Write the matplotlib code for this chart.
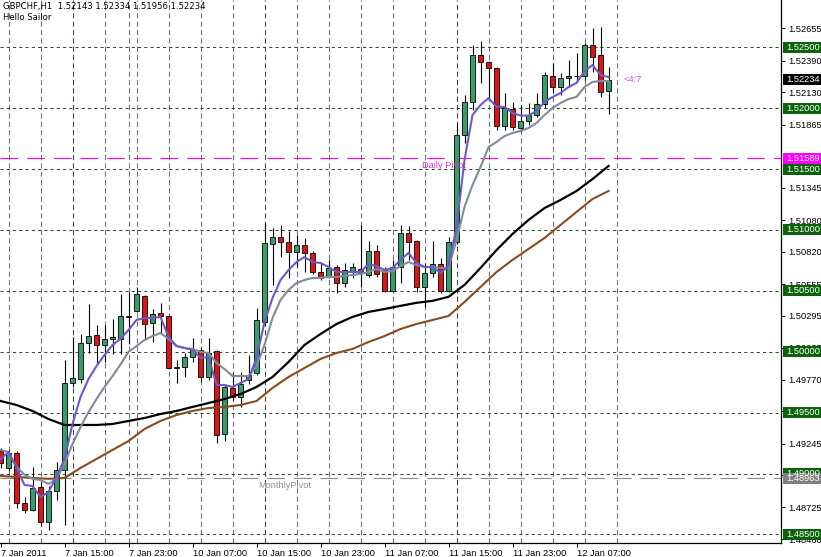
import matplotlib
matplotlib.use("Agg")
import matplotlib.pyplot as plt
from matplotlib.patches import Rectangle
import matplotlib.transforms as mtransforms

# ---------------- data (GBPCHF H1) ----------------
symbol_header = "GBPCHF,H1  1.52143 1.52334 1.51956 1.52234"
subtitle = "Hello Sailor"

opens = [1.49186, 1.49046, 1.49172, 1.48759, 1.48701, 1.48890, 1.48605, 1.48857, 1.49030, 1.49744,
         1.49779, 1.50072, 1.50138, 1.50056, 1.50105, 1.50105, 1.50294, 1.50335, 1.50458, 1.50237,
         1.50319, 1.50294, 1.49867, 1.49875, 1.49957, 1.50015, 1.49793, 1.50007, 1.49325, 1.49703,
         1.49631, 1.49769, 1.49826, 1.50245, 1.50885, 1.50943, 1.50904, 1.50822, 1.50877, 1.50814,
         1.50658, 1.50617, 1.50696, 1.50567, 1.50658, 1.50680, 1.50631, 1.50830, 1.50680, 1.50502,
         1.50699, 1.50978, 1.50912, 1.50532, 1.50649, 1.50721, 1.50502, 1.50904, 1.51780, 1.52051,
         1.52437, 1.52382, 1.52328, 1.51854, 1.51993, 1.51835, 1.51897, 1.51944, 1.52034, 1.52264,
         1.52172, 1.52245, 1.52264, 1.52264, 1.52519, 1.52437, 1.52143]
highs = [1.49210, 1.49194, 1.49186, 1.48808, 1.49054, 1.48931, 1.48898, 1.49095, 1.49933, 1.50122,
         1.50149, 1.50393, 1.50220, 1.50220, 1.50269, 1.50475, 1.50491, 1.50532, 1.50467, 1.50351,
         1.50401, 1.50302, 1.49933, 1.49990, 1.50113, 1.50039, 1.50113, 1.50015, 1.49727, 1.49826,
         1.49834, 1.49974, 1.50360, 1.51057, 1.51016, 1.51041, 1.50994, 1.50959, 1.50934, 1.50828,
         1.50740, 1.50754, 1.50713, 1.50727, 1.50729, 1.51041, 1.50912, 1.50877, 1.50699, 1.50754,
         1.51041, 1.51033, 1.50920, 1.50729, 1.50912, 1.50768, 1.50945, 1.51879, 1.52108, 1.52519,
         1.52554, 1.52390, 1.52341, 1.52125, 1.52053, 1.52026, 1.52040, 1.52125, 1.52300, 1.52371,
         1.52291, 1.52396, 1.52451, 1.52538, 1.52656, 1.52669, 1.52334]
lows = [1.49046, 1.49021, 1.48718, 1.48677, 1.48693, 1.48570, 1.48537, 1.48783, 1.48578, 1.49711,
        1.49744, 1.49990, 1.49900, 1.49916, 1.49982, 1.49982, 1.50064, 1.50327, 1.50097, 1.50080,
        1.50154, 1.49859, 1.49744, 1.49793, 1.49916, 1.49752, 1.49769, 1.49251, 1.49270, 1.49604,
        1.49549, 1.49736, 1.49810, 1.50220, 1.50548, 1.50778, 1.50606, 1.50699, 1.50658, 1.50639,
        1.50590, 1.50603, 1.50483, 1.50535, 1.50606, 1.50532, 1.50617, 1.50617, 1.50493, 1.50493,
        1.50565, 1.50754, 1.50493, 1.50370, 1.50617, 1.50483, 1.50493, 1.50885, 1.51712, 1.51985,
        1.52204, 1.52067, 1.51821, 1.51821, 1.51821, 1.51807, 1.51862, 1.51930, 1.52002, 1.52127,
        1.52108, 1.52177, 1.52218, 1.52232, 1.52300, 1.52094, 1.51956]
closes = [1.49087, 1.49170, 1.48756, 1.48701, 1.48882, 1.48605, 1.48857, 1.49030, 1.49744, 1.49785,
          1.50072, 1.50130, 1.50056, 1.50105, 1.50122, 1.50294, 1.50286, 1.50475, 1.50228, 1.50310,
          1.50294, 1.49867, 1.49875, 1.49957, 1.50015, 1.49793, 1.49990, 1.49317, 1.49713, 1.49631,
          1.49736, 1.49810, 1.50261, 1.50893, 1.50945, 1.50904, 1.50822, 1.50877, 1.50814, 1.50658,
          1.50606, 1.50688, 1.50567, 1.50672, 1.50696, 1.50649, 1.50830, 1.50639, 1.50502, 1.50699,
          1.50978, 1.50904, 1.50532, 1.50647, 1.50721, 1.50502, 1.50904, 1.51780, 1.52051, 1.52437,
          1.52377, 1.52328, 1.51854, 1.52002, 1.51843, 1.51897, 1.51944, 1.52034, 1.52273, 1.52172,
          1.52245, 1.52264, 1.52268, 1.52519, 1.52418, 1.52135, 1.52234]

ma_fast = [1.49120, 1.49177, 1.49046, 1.48906, 1.48898, 1.48808, 1.48849, 1.48972, 1.49120, 1.49407,
           1.49629, 1.49776, 1.49883, 1.49973, 1.50056, 1.50105, 1.50179, 1.50261, 1.50277, 1.50277,
           1.50286, 1.50121, 1.50047, 1.50031, 1.50015, 1.49949, 1.49957, 1.49727, 1.49727, 1.49711,
           1.49744, 1.49776, 1.49949, 1.50244, 1.50441, 1.50589, 1.50671, 1.50737, 1.50778, 1.50737,
           1.50729, 1.50696, 1.50655, 1.50655, 1.50655, 1.50655, 1.50721, 1.50704, 1.50671, 1.50688,
           1.50754, 1.50811, 1.50729, 1.50696, 1.50696, 1.50647, 1.50704, 1.51024, 1.51574, 1.51944,
           1.52026, 1.52083, 1.52010, 1.52010, 1.51960, 1.51940, 1.51938, 1.51977, 1.52051, 1.52092,
           1.52124, 1.52174, 1.52207, 1.52305, 1.52354, 1.52272, 1.52256]
ma_slow = [1.49194, 1.49177, 1.49054, 1.48990, 1.48957, 1.48947, 1.48915, 1.48957, 1.49079, 1.49243,
           1.49382, 1.49505, 1.49612, 1.49711, 1.49800, 1.49896, 1.49999, 1.50047, 1.50097, 1.50129,
           1.50154, 1.50105, 1.50047, 1.50031, 1.50023, 1.49999, 1.49990, 1.49908, 1.49858, 1.49801,
           1.49801, 1.49800, 1.49883, 1.50056, 1.50277, 1.50425, 1.50507, 1.50565, 1.50589, 1.50606,
           1.50606, 1.50614, 1.50614, 1.50622, 1.50630, 1.50639, 1.50655, 1.50680, 1.50655, 1.50663,
           1.50704, 1.50737, 1.50712, 1.50696, 1.50696, 1.50688, 1.50688, 1.50918, 1.51189, 1.51369,
           1.51517, 1.51681, 1.51722, 1.51771, 1.51796, 1.51813, 1.51837, 1.51878, 1.51944, 1.52001,
           1.52042, 1.52075, 1.52092, 1.52174, 1.52215, 1.52223, 1.52223]

ma_long_bars = list(range(0, 77, 2))
ma_black = [1.49596, 1.49563, 1.49514, 1.49448, 1.49399, 1.49399, 1.49399, 1.49407, 1.49432, 1.49456,
            1.49489, 1.49514, 1.49547, 1.49579, 1.49612, 1.49653, 1.49711, 1.49793, 1.49916, 1.50056,
            1.50146, 1.50228, 1.50286, 1.50327, 1.50351, 1.50377, 1.50402, 1.50418, 1.50451, 1.50549,
            1.50688, 1.50835, 1.50967, 1.51082, 1.51180, 1.51246, 1.51320, 1.51418, 1.51525]
ma_brown = [1.48980, 1.48972, 1.48964, 1.48957, 1.48964, 1.49046, 1.49120, 1.49194, 1.49267, 1.49366,
            1.49432, 1.49481, 1.49514, 1.49538, 1.49547, 1.49563, 1.49596, 1.49703, 1.49793, 1.49867,
            1.49941, 1.49990, 1.50023, 1.50080, 1.50129, 1.50187, 1.50228, 1.50261, 1.50294, 1.50409,
            1.50532, 1.50655, 1.50754, 1.50844, 1.50934, 1.51041, 1.51148, 1.51254, 1.51320]

round_levels = [1.48500, 1.49000, 1.49500, 1.50000, 1.50500, 1.51000, 1.51500, 1.52000, 1.52500]
daily_pivot = 1.51589
monthly_pivot = 1.48963
current_price = 1.52234
countdown = "<4:7"

price_ticks = [1.52655, 1.52390, 1.52130, 1.51865, 1.51345, 1.51080, 1.50820, 1.50555,
               1.50295, 1.50035, 1.49770, 1.49510, 1.49245, 1.48985, 1.48725, 1.48460]
time_tick_bars = [0, 8, 16, 24, 32, 40, 48, 56, 64, 72]
time_tick_labels = ["7 Jan 2011", "7 Jan 15:00", "7 Jan 23:00", "10 Jan 07:00", "10 Jan 15:00",
                    "10 Jan 23:00", "11 Jan 07:00", "11 Jan 15:00", "11 Jan 23:00", "12 Jan 07:00"]
grid_bars = list(range(1, 78, 4))
session_bars = [9, 33, 57]
separator_bar = 16

# ---------------- styling ----------------
FONT = "Liberation Sans"
FS = 6.7
BULL = "#3b9b6b"
BEAR = "#dc1414"
GRID_GREEN = "#275227"

W, H = 821, 557
fig = plt.figure(figsize=(W / 100, H / 100), dpi=100)
fig.patch.set_facecolor("white")
ax_left, ax_right, ax_bottom = 0, 781, 543
ax = fig.add_axes([ax_left / W, (H - ax_bottom) / H, (ax_right - ax_left) / W, ax_bottom / H])
ax.set_facecolor("white")

ax.set_xlim(-0.0625, 97.56)
ax.set_ylim(1.48430, 1.52888)

# grid verticals
for b in grid_bars:
    col = GRID_GREEN if b in session_bars else "#6e6e6e"
    ax.axvline(b, color=col, lw=0.75, ls=(0, (5, 3)), zorder=1)
ax.axvline(separator_bar, color="#6e6e6e", lw=0.75, ls=(0, (5, 3)), zorder=1)

# round number levels
for lv in round_levels:
    ax.axhline(lv, color=GRID_GREEN, lw=0.75, ls=(0, (3, 3)), zorder=1)

# pivots
ax.axhline(daily_pivot, color="#ff00ff", lw=0.8, ls=(0, (16, 8)), zorder=1.2)
ax.axhline(monthly_pivot, color="#8a8a8a", lw=0.8, ls=(0, (16, 8)), zorder=1.2)
ax.text(52.7, daily_pivot - 0.00025, "Daily Pivot", color="#cc33cc", fontsize=FS, family=FONT,
        ha="left", va="top", zorder=4)
ax.text(32.2, monthly_pivot - 0.00025, "MonthlyPivot", color="#909090", fontsize=FS, family=FONT,
        ha="left", va="top", zorder=4)

# candles
body_w = 0.6
for i, (o, h, l, c) in enumerate(zip(opens, highs, lows, closes)):
    ax.plot([i, i], [l, h], color="black", lw=0.8, zorder=2, solid_capstyle="butt")
    lo, hi = min(o, c), max(o, c)
    if hi - lo < 0.00004:
        ax.plot([i - body_w / 2, i + body_w / 2], [c, c], color="black", lw=0.9, zorder=3)
    else:
        ax.add_patch(Rectangle((i - body_w / 2, lo), body_w, hi - lo,
                               facecolor=BULL if c >= o else BEAR, edgecolor="black",
                               lw=0.6, zorder=3))

# moving averages
bars = list(range(len(ma_fast)))
ax.plot(ma_long_bars, ma_brown, color="#8b4a1c", lw=1.5, zorder=4)
ax.plot(ma_long_bars, ma_black, color="black", lw=1.6, zorder=4)
ax.plot(bars, ma_slow, color="#7f8c99", lw=1.5, zorder=4.1)
ax.plot(bars, ma_fast, color="#6a5acd", lw=1.5, zorder=4.2)

# countdown text
ax.text(77.9, current_price, countdown, color="#dd44dd", fontsize=FS, family=FONT,
        ha="left", va="center", zorder=5)

# spines
for s in ["left", "top"]:
    ax.spines[s].set_visible(False)
for s in ["right", "bottom"]:
    ax.spines[s].set_color("black")
    ax.spines[s].set_linewidth(0.9)

# y axis on right
ax.yaxis.tick_right()
ax.set_yticks(price_ticks)
ax.set_yticklabels(["%.5f" % t for t in price_ticks], family=FONT, fontsize=FS)
ax.tick_params(axis="y", direction="out", length=3, width=0.7, pad=2, colors="black")

ax.set_xticks(time_tick_bars)
ax.set_xticklabels(time_tick_labels, family=FONT, fontsize=FS, ha="left")
ax.tick_params(axis="x", direction="out", length=3, width=0.7, pad=1, colors="black")

# price label boxes
trans = mtransforms.blended_transform_factory(ax.transAxes, ax.transData)
px_y = (1.52888 - 1.48430) / 543.0
boxes = [(lv, "#0b620b") for lv in round_levels] + [
    (monthly_pivot, "#808080"), (daily_pivot, "#ff00ff"), (current_price, "#000000")]
for lv, col in boxes:
    ax.add_patch(Rectangle((1.0 + 1.5 / 781, lv - 5.5 * px_y), 45 / 781, 11 * px_y,
                           transform=trans, facecolor=col, edgecolor="none",
                           clip_on=False, zorder=9))
    ax.text(1.0 + 5 / 781, lv, "%.5f" % lv, transform=trans, color="white", fontsize=FS,
            family=FONT, ha="left", va="center", clip_on=False, zorder=10)

# header
fig.text(3 / W, 1 - 7 / H, symbol_header, fontsize=6.15, family="DejaVu Sans", ha="left",
         va="center")
fig.text(3 / W, 1 - 17.5 / H, subtitle, fontsize=6.15, family="DejaVu Sans", ha="left",
         va="center")

fig.savefig("out.png", dpi=100, facecolor="white")
